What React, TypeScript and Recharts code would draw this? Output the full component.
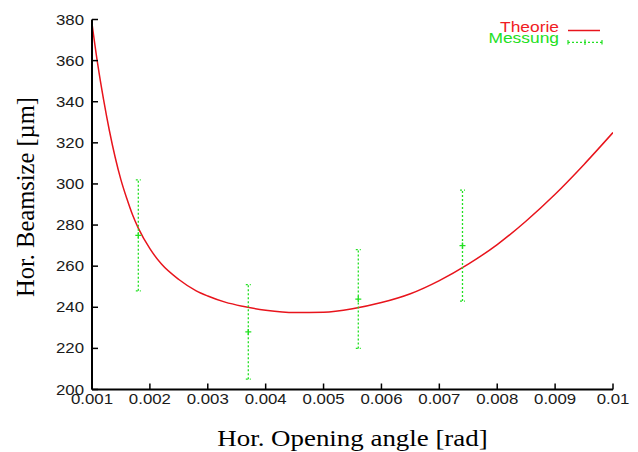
import React from "react";
import { ComposedChart, Line, Scatter, XAxis, YAxis, ErrorBar, Legend, Label } from "recharts";

// ---- data ----
const THEORY_X = [0.001, 0.0011, 0.0012, 0.0013, 0.0014, 0.0015, 0.0016, 0.0017, 0.0018, 0.002, 0.0022, 0.0025, 0.0028, 0.003, 0.0033, 0.0036, 0.004, 0.0045, 0.005, 0.0055, 0.006, 0.0065, 0.007, 0.0075, 0.008, 0.0085, 0.009, 0.0095, 0.01];
const THEORY_Y = [378, 358, 341, 326, 313, 302, 293, 285, 278.5, 268.5, 261, 253.5, 248, 245.5, 242.5, 240.5, 238.6, 237.4, 237.6, 239.3, 242.3, 246.6, 253, 261, 270.5, 282, 295, 309.5, 325];

const MESS_X = [0.0018, 0.0037, 0.0056, 0.0074];
const MESS_Y = [275, 228, 244, 270];
const MESS_LOW = [248, 205, 220, 243];
const MESS_HIGH = [302, 251, 268, 297];

const X_TICKS = [0.001, 0.002, 0.003, 0.004, 0.005, 0.006, 0.007, 0.008, 0.009, 0.01];
const X_TICK_LABELS = ["0.001", "0.002", "0.003", "0.004", "0.005", "0.006", "0.007", "0.008", "0.009", "0.01"];
const Y_TICKS = [200, 220, 240, 260, 280, 300, 320, 340, 360, 380];

const SERIES_NAMES = ["Theorie", "Messung"];
const X_TITLE = "Hor. Opening angle [rad]";
const Y_TITLE = "Hor. Beamsize [\u00b5m]";

// ---- styles ----
const RED = "#e8141c";
const RED_TEXT = "#f01c24";
const GREEN = "#22e022";
const SANS = "'Liberation Sans', Arial, sans-serif";
const SERIF = "'Liberation Serif', 'Times New Roman', serif";
const SX = 1.16;
const TICK_FONT = 14.5;
const TICK_COLOR = "#1a1a1a";
const TICK_LEN = 6;

const theoryData = THEORY_X.map((x, i) => ({ x, y: THEORY_Y[i] }));
const messData = MESS_X.map((x, i) => ({
  x,
  y: MESS_Y[i],
  err: [MESS_Y[i] - MESS_LOW[i], MESS_HIGH[i] - MESS_Y[i]],
}));

const SText = ({ x, y, anchor, size, fill, family, sx = SX, children }: any) => (
  <g transform={`translate(${x},${y}) scale(${sx},1)`}>
    <text x={0} y={0} textAnchor={anchor} fontSize={size} fill={fill} fontFamily={family}>
      {children}
    </text>
  </g>
);

const xLabel = (v: number) => {
  let best = 0;
  X_TICKS.forEach((t, i) => {
    if (Math.abs(t - v) < Math.abs(X_TICKS[best] - v)) best = i;
  });
  return X_TICK_LABELS[best];
};

const BottomTick = (props: any) => {
  const { x, y, payload } = props;
  return (
    <g>
      <line x1={x} y1={y} x2={x} y2={y - TICK_LEN} stroke="#000" strokeWidth={1.5} />
      <SText x={x} y={y + 14.5} anchor="middle" size={TICK_FONT} fill={TICK_COLOR} family={SANS}>
        {xLabel(payload.value)}
      </SText>
    </g>
  );
};

const TopTick = (props: any) => {
  const { x, y } = props;
  return <line x1={x} y1={y} x2={x} y2={y + TICK_LEN} stroke="#000" strokeWidth={1.5} />;
};

const LeftTick = (props: any) => {
  const { x, y, payload } = props;
  return (
    <g>
      <line x1={x} y1={y} x2={x + TICK_LEN} y2={y} stroke="#000" strokeWidth={1.5} />
      <SText x={x - 8} y={y + 5} anchor="end" size={TICK_FONT} fill={TICK_COLOR} family={SANS}>
        {String(payload.value)}
      </SText>
    </g>
  );
};

const RightTick = (props: any) => {
  const { x, y } = props;
  return <line x1={x} y1={y} x2={x - TICK_LEN} y2={y} stroke="#000" strokeWidth={1.5} />;
};

const XTitle = (props: any) => {
  const { viewBox } = props;
  const cx = viewBox.x + viewBox.width / 2;
  return (
    <SText x={cx} y={viewBox.y + 56.5} anchor="middle" size={23} fill="#000" family={SERIF} sx={1.17}>
      {X_TITLE}
    </SText>
  );
};

const YTitle = (props: any) => {
  const { viewBox } = props;
  const cy = viewBox.y + viewBox.height / 2 - 7.5;
  return (
    <text
      transform={`translate(25.5,${cy}) rotate(-90)`}
      textAnchor="middle"
      fontSize={24.5}
      fill="#000"
      fontFamily={SERIF}
    >
      {Y_TITLE}
    </text>
  );
};

const Cross = (props: any) => {
  const { cx, cy } = props;
  if (cx == null || cy == null) return null;
  return (
    <g stroke={GREEN} strokeWidth={1.3}>
      <line x1={cx - 3} y1={cy} x2={cx + 3} y2={cy} />
      <line x1={cx} y1={cy - 3} x2={cx} y2={cy + 3} />
    </g>
  );
};

const KeyBox = () => (
  <svg width={630} height={60} style={{ overflow: "visible", pointerEvents: "none" }}>
    <SText x={551} y={24} anchor="end" size={15} fill={RED_TEXT} family={SANS}>
      {SERIES_NAMES[0]}
    </SText>
    <line x1={560} y1={22.5} x2={592} y2={22.5} stroke={RED} strokeWidth={1.5} />
    <SText x={551} y={34.5} anchor="end" size={15} fill={GREEN} family={SANS}>
      {SERIES_NAMES[1]}
    </SText>
    <g stroke={GREEN} strokeWidth={1.2}>
      <line x1={560} y1={34.3} x2={594} y2={34.3} strokeDasharray="2 2" />
      <line x1={560} y1={32} x2={560} y2={36.6} />
      <line x1={594} y1={32} x2={594} y2={36.6} />
      <line x1={577} y1={31.5} x2={577} y2={37} />
    </g>
  </svg>
);

export default function App() {
  return (
    <ComposedChart
      width={630}
      height={444}
      margin={{ top: 11.5, right: 25, left: 0, bottom: 0 }}
      style={{ background: "#fff" }}
    >
      <XAxis
        xAxisId={0}
        dataKey="x"
        type="number"
        domain={[0.001, 0.01]}
        ticks={X_TICKS}
        interval={0}
        height={62.5}
        tickSize={0}
        tickMargin={0}
        tickLine={false}
        axisLine={{ stroke: "#000", strokeWidth: 2 }}
        tick={<BottomTick />}
        allowDataOverflow
      >
        <Label content={<XTitle />} />
      </XAxis>
      <XAxis
        xAxisId="top"
        orientation="top"
        dataKey="x"
        type="number"
        domain={[0.001, 0.01]}
        ticks={X_TICKS}
        interval={0}
        height={0}
        tickSize={0}
        tickMargin={0}
        tickLine={false}
        axisLine={{ stroke: "#000", strokeWidth: 2 }}
        tick={<TopTick />}
        allowDataOverflow
      />
      <YAxis
        yAxisId={0}
        type="number"
        domain={[200, 380]}
        ticks={Y_TICKS}
        interval={0}
        width={84}
        tickSize={0}
        tickMargin={0}
        tickLine={false}
        axisLine={{ stroke: "#000", strokeWidth: 2 }}
        tick={<LeftTick />}
        allowDataOverflow
      >
        <Label content={<YTitle />} />
      </YAxis>
      <YAxis
        yAxisId="right"
        orientation="right"
        type="number"
        domain={[200, 380]}
        ticks={Y_TICKS}
        interval={0}
        width={0}
        tickSize={0}
        tickMargin={0}
        tickLine={false}
        axisLine={{ stroke: "#000", strokeWidth: 2 }}
        tick={<RightTick />}
        allowDataOverflow
      />
      <Line
        data={theoryData}
        dataKey="y"
        name={SERIES_NAMES[0]}
        type="monotone"
        stroke={RED}
        strokeWidth={1.5}
        dot={false}
        activeDot={false}
        isAnimationActive={false}
      />
      <Scatter
        data={messData}
        dataKey="y"
        name={SERIES_NAMES[1]}
        fill={GREEN}
        shape={<Cross />}
        isAnimationActive={false}
      >
        <ErrorBar
          dataKey="err"
          direction="y"
          width={2.5}
          stroke={GREEN}
          strokeWidth={1.3}
          strokeDasharray="2 2"
          isAnimationActive={false}
        />
      </Scatter>
      <Legend
        layout="vertical"
        align="center"
        verticalAlign="middle"
        wrapperStyle={{ position: "absolute", left: 0, top: 0, width: 630, height: 60 }}
        content={<KeyBox />}
      />
    </ComposedChart>
  );
}
